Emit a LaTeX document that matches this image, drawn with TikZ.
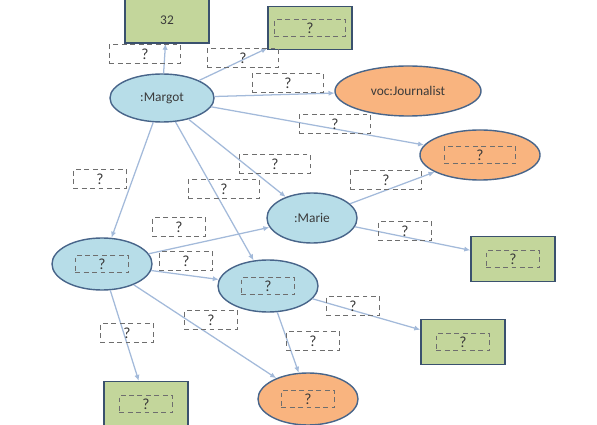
\documentclass[tikz,border=0pt]{standalone}
\usepackage{fontspec}
\setmainfont{Carlito}
\usetikzlibrary{arrows.meta,shapes.geometric}
\definecolor{rim}{HTML}{48658A}
\definecolor{sky}{HTML}{B7DDE8}
\definecolor{peach}{HTML}{F9B47F}
\definecolor{leaf}{HTML}{C3D69B}
\definecolor{link}{HTML}{A3BADA}
\definecolor{qgrey}{HTML}{6E6E6E}
\definecolor{ink}{HTML}{3A3A3A}

\begin{document}
\begin{tikzpicture}[x=0.025cm,y=-0.025cm,font=\fontsize{9.5}{11}\selectfont,text=ink,
  res/.style={ellipse,draw=rim,line width=1pt,fill=sky,inner sep=0pt},
  cls/.style={ellipse,draw=rim,line width=1pt,fill=peach,inner sep=0pt},
  lit/.style={rectangle,draw=rim!80!black,line width=1pt,fill=leaf,minimum width=2.1cm,minimum height=1.12cm},
  qbox/.style={draw=qgrey,dash pattern=on 3.5pt off 2.5pt,line width=0.9pt,text=ink,
    font=\fontsize{11}{12}\selectfont,inner sep=0pt,minimum height=0.46cm},
  wide/.style={minimum width=1.78cm},
  narrow/.style={minimum width=1.34cm},
  rel/.style={draw=link,line width=0.9pt,-{Latex[length=1.5mm,width=1.3mm]}}]
\useasboundingbox (0,0) rectangle (597,425);

% resources
\node[res,minimum width=2.6cm,minimum height=1.2cm] (margot) at (162,98) {:Margot};
\node[res,minimum width=2.25cm,minimum height=1.25cm] (marie) at (312,218) {:Marie};
\node[res,minimum width=2.5cm,minimum height=1.3cm] (anon1) at (102,264) {};
\node[res,minimum width=2.5cm,minimum height=1.3cm] (anon2) at (268,286) {};

% classes
\node[cls,minimum width=3.65cm,minimum height=1.25cm] (journ) at (408,91) {voc:Journalist};
\node[cls,minimum width=3.0cm,minimum height=1.25cm] (cls1) at (480,155) {};
\node[cls,minimum width=2.5cm,minimum height=1.3cm] (cls2) at (308,399) {};

% literals
\node[lit,minimum height=1.15cm] (age) at (167,20) {32};
\node[lit,minimum height=1.08cm] (lit1) at (310,28) {};
\node[lit] (lit2) at (513,259) {};
\node[lit] (lit3) at (463,342) {};
\node[lit] (lit4) at (146,404) {};

% blanks inside the shapes
\node[qbox,wide,minimum height=0.42cm] (q1) at (lit1.center) {?};
\node[qbox,wide,minimum height=0.44cm] (q2) at (cls1.center) {?};
\foreach \n in {anon1,anon2,lit2,lit3,lit4,cls2}
  \node[qbox,narrow,minimum height=0.43cm] (q-\n) at (\n.center) {?};

% links
\foreach \a/\b in {margot/age, margot/lit1, margot/journ, margot/cls1, margot/marie,
    margot/anon1, margot/anon2, marie/cls1, anon1/marie, marie/lit2, anon1/anon2,
    anon2/lit3, anon1/cls2, anon1/lit4, anon2/cls2}
  \draw[rel] (\a) -- (\b);

% property blanks
\foreach \n/\s/\x/\y in {p1/wide/145/54, p2/wide/243/58, p3/wide/288/83, p4/wide/335/124,
    p5/wide/275/164, p6/wide/386/180, p7/narrow/100/179, p8/wide/224/189,
    p9/narrow/179/227, p10/narrow/405/231, p11/narrow/186/261, p12/narrow/353/306,
    p13/narrow/211/320, p14/narrow/127/333, p15/narrow/313/341}
  \node[qbox,\s] (\n) at (\x,\y) {?};
\end{tikzpicture}
\end{document}
